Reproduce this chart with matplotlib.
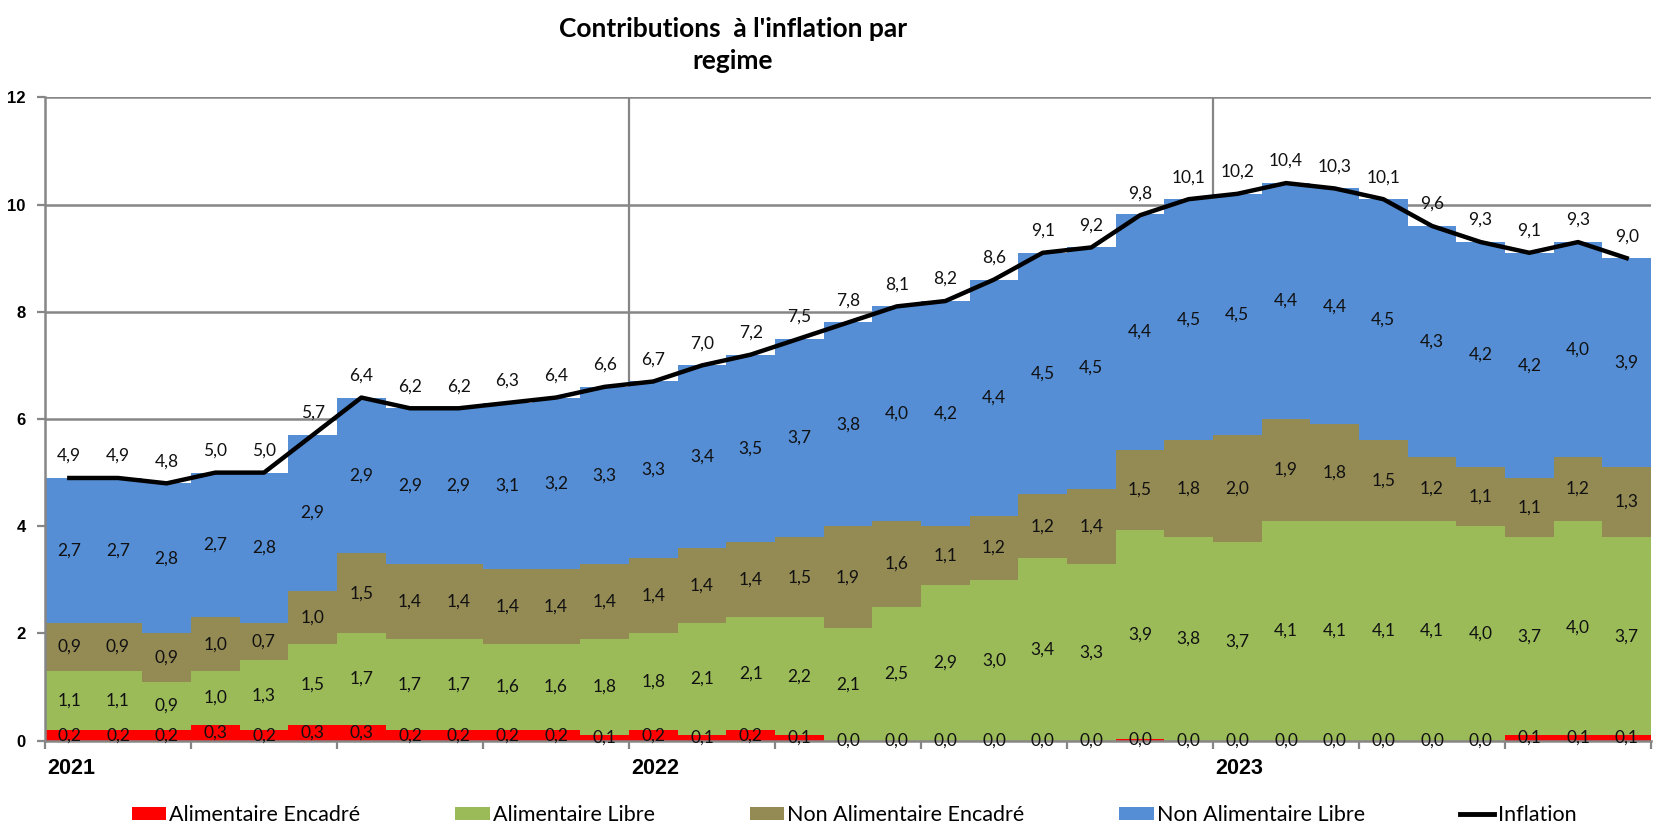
import matplotlib
matplotlib.use("Agg")
import matplotlib.pyplot as plt
from matplotlib.patches import Patch
from matplotlib.lines import Line2D
import numpy as np

# ---- data (Jan 2021 .. Sep 2023) ----
years = ["2021", "2022", "2023"]
alim_encadre = [0.2, 0.2, 0.2, 0.3, 0.2, 0.3, 0.3, 0.2, 0.2, 0.2, 0.2, 0.1,
                0.2, 0.1, 0.2, 0.1, 0.0, 0.0, 0.0, 0.0, 0.0, 0.0, 0.03, 0.0,
                0.0, 0.0, 0.0, 0.0, 0.0, 0.0, 0.1, 0.1, 0.1]
alim_libre = [1.1, 1.1, 0.9, 1.0, 1.3, 1.5, 1.7, 1.7, 1.7, 1.6, 1.6, 1.8,
              1.8, 2.1, 2.1, 2.2, 2.1, 2.5, 2.9, 3.0, 3.4, 3.3, 3.9, 3.8,
              3.7, 4.1, 4.1, 4.1, 4.1, 4.0, 3.7, 4.0, 3.7]
non_alim_encadre = [0.9, 0.9, 0.9, 1.0, 0.7, 1.0, 1.5, 1.4, 1.4, 1.4, 1.4, 1.4,
                    1.4, 1.4, 1.4, 1.5, 1.9, 1.6, 1.1, 1.2, 1.2, 1.4, 1.5, 1.8,
                    2.0, 1.9, 1.8, 1.5, 1.2, 1.1, 1.1, 1.2, 1.3]
non_alim_libre = [2.7, 2.7, 2.8, 2.7, 2.8, 2.9, 2.9, 2.9, 2.9, 3.1, 3.2, 3.3,
                  3.3, 3.4, 3.5, 3.7, 3.8, 4.0, 4.2, 4.4, 4.5, 4.5, 4.4, 4.5,
                  4.5, 4.4, 4.4, 4.5, 4.3, 4.2, 4.2, 4.0, 3.9]
inflation = [4.9, 4.9, 4.8, 5.0, 5.0, 5.7, 6.4, 6.2, 6.2, 6.3, 6.4, 6.6,
             6.7, 7.0, 7.2, 7.5, 7.8, 8.1, 8.2, 8.6, 9.1, 9.2, 9.8, 10.1,
             10.2, 10.4, 10.3, 10.1, 9.6, 9.3, 9.1, 9.3, 9.0]

series_names = ["Alimentaire Encadré", "Alimentaire Libre",
                "Non Alimentaire Encadré", "Non Alimentaire Libre"]
series_vals = [alim_encadre, alim_libre, non_alim_encadre, non_alim_libre]
colors = ["#FF0000", "#9BBB59", "#948A54", "#558ED5"]
grid_c = "#868686"

LBL_FONT = ["Lato", "DejaVu Sans"]


def fmt(v):
    return f"{v:.1f}".replace(".", ",")


fig = plt.figure(figsize=(16.63, 8.40), dpi=100)
ax = fig.add_axes([45 / 1663, 1 - 740.7 / 840, (1651 - 45) / 1663, (740.7 - 97.3) / 840])

n = len(inflation)
x = np.arange(n)
bottom = np.zeros(n)
for vals, col in zip(series_vals, colors):
    v = np.array(vals)
    ax.bar(x, v, width=1.0, bottom=bottom, align="edge", color=col,
           linewidth=0, zorder=2)
    for j in range(n):
        ax.text(x[j] + 0.5, bottom[j] + v[j] / 2, fmt(v[j]), ha="center",
                va="center", fontsize=12.5, family=LBL_FONT, color="#111111",
                zorder=5)
    bottom = bottom + v

ax.plot(x + 0.5, inflation, color="black", lw=3.2, zorder=4,
        solid_joinstyle="round")
for j in range(n):
    ax.annotate(fmt(inflation[j]), (x[j] + 0.5, inflation[j]),
                xytext=(0, 22), textcoords="offset pixels", ha="center",
                va="center", fontsize=12.5, family=LBL_FONT, color="#111111",
                zorder=5)

ax.set_xlim(0, n)
ax.set_ylim(0, 12)
ax.set_yticks(np.arange(0, 13, 2))
ax.set_yticklabels([str(v) for v in range(0, 13, 2)], fontsize=12,
                   fontweight="bold", family=["Liberation Sans", "DejaVu Sans"])
ax.set_xticks(np.arange(0, n + 1, 3))
ax.set_xticklabels([])
ax.tick_params(axis="y", direction="out", length=6, width=1.6, color=grid_c, pad=8)
ax.tick_params(axis="x", direction="out", length=6, width=1.6, color=grid_c)

for s in ["top", "right"]:
    ax.spines[s].set_visible(False)
for s in ["left", "bottom"]:
    ax.spines[s].set_color(grid_c)
    ax.spines[s].set_linewidth(1.8)
    ax.spines[s].set_zorder(3)

for yv in range(2, 13, 2):
    ax.axhline(yv, color=grid_c, lw=1.8, zorder=0.5)
for k in range(1, len(years)):
    ax.axvline(12 * k, color=grid_c, lw=1.6, zorder=0.5)

for k, yr in enumerate(years):
    ax.annotate(yr, (12 * k, 0), xytext=(2, -28), textcoords="offset pixels",
                ha="left", va="center", fontsize=15.5, fontweight="bold",
                family=["Liberation Sans", "DejaVu Sans"], annotation_clip=False)

fig.text(733 / 1663, 1 - 45 / 840, "Contributions  à l'inflation par\nregime",
         ha="center", va="center", fontsize=19, fontweight="bold",
         family=LBL_FONT, linespacing=1.4)

handles = [Patch(facecolor=c, edgecolor="none") for c in colors]
handles.append(Line2D([0], [0], color="black", lw=3.5))
labels = series_names + ["Inflation"]
fig.legend(handles, labels, loc="center", bbox_to_anchor=(854 / 1663, 1 - 815 / 840),
           ncol=5, frameon=False, prop={"family": LBL_FONT, "size": 15.5},
           handlelength=1.6, handleheight=0.6, handletextpad=0.15,
           columnspacing=4.4)

fig.savefig("out.png", dpi=100)
